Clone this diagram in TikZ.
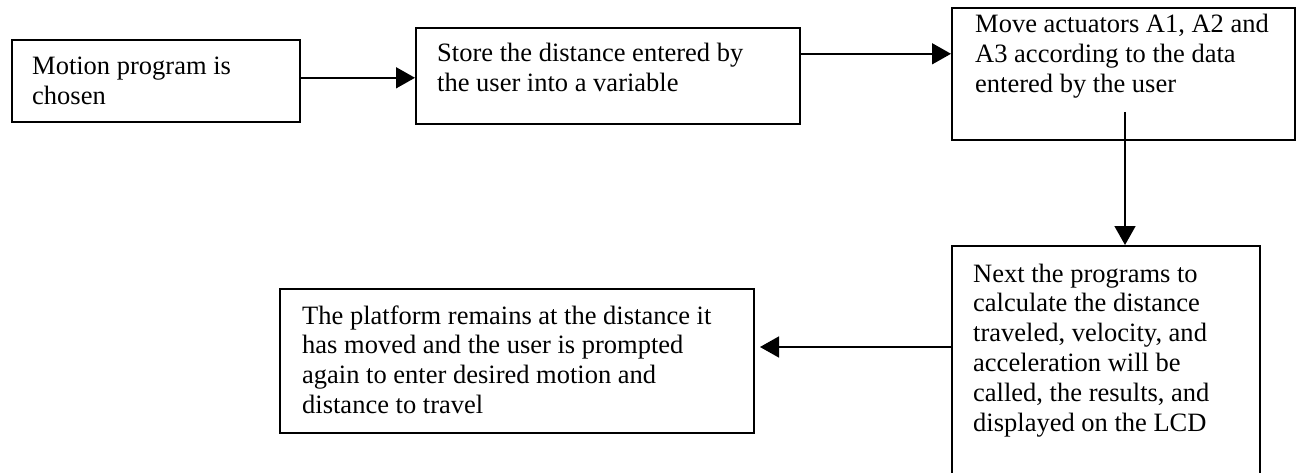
\documentclass[tikz,border=0pt]{standalone}
\usepackage{fontspec}
\setmainfont{Liberation Serif}
\usetikzlibrary{arrows.meta}

\tikzset{
  flowbox/.style={draw=black, line width=1.6pt, inner sep=0pt, anchor=north west},
  boxtext/.style={inner sep=0pt, anchor=base west, font=\fontsize{26.5}{29.8}\selectfont},
  flowarrow/.style={line width=1.6pt, -{Triangle[length=19pt,width=21pt]}}
}

\begin{document}
\begin{tikzpicture}[x=1pt, y=1pt]
  \useasboundingbox (0,0) rectangle (1297,-473);
  \clip (0,0) rectangle (1297,-473);

  % process boxes
  \node[flowbox, minimum width=288pt, minimum height=82pt]  (b1) at (11,-39)   {};
  \node[flowbox, minimum width=384pt, minimum height=96pt]  (b2) at (415,-27)  {};
  \node[flowbox, minimum width=343pt, minimum height=132pt] (b3) at (951,-7)   {};
  \node[flowbox, minimum width=308pt, minimum height=260pt] (b4) at (951,-245) {};
  \node[flowbox, minimum width=474pt, minimum height=144pt] (b5) at (279,-288) {};

  % box texts
  \node[boxtext] (t1) at (32,-75)   {\parbox[t]{300pt}{Motion program is\\chosen}};
  \node[boxtext] (t2) at (437,-62)  {\parbox[t]{360pt}{Store the distance entered by\\the user into a variable}};
  \node[boxtext] (t3) at (975,-33)  {\parbox[t]{320pt}{Move actuators A1, A2 and\\A3 according to the data\\entered by the user}};
  \node[boxtext] (t4) at (973,-282) {\parbox[t]{285pt}{Next the programs to\\calculate the distance\\traveled, velocity, and\\acceleration will be\\called, the results, and\\displayed on the LCD}};
  \node[boxtext] (t5) at (302,-324) {\parbox[t]{450pt}{The platform remains at the distance it\\has moved and the user is prompted\\again to enter desired motion and\\distance to travel}};

  % flow connectors
  \draw[flowarrow] ([yshift=3pt]b1.east) -- ([yshift=3pt]b1.east -| b2.west);
  \draw[flowarrow] ([yshift=22pt]b2.east) -- ([yshift=22pt]b2.east -| b3.west);
  \coordinate (a3) at (1125,-112);
  \draw[flowarrow] (a3) -- (a3 |- b4.north);
  \coordinate (a4) at (760,-347);
  \draw[flowarrow] (b4.west |- a4) -- (a4);
\end{tikzpicture}
\end{document}
